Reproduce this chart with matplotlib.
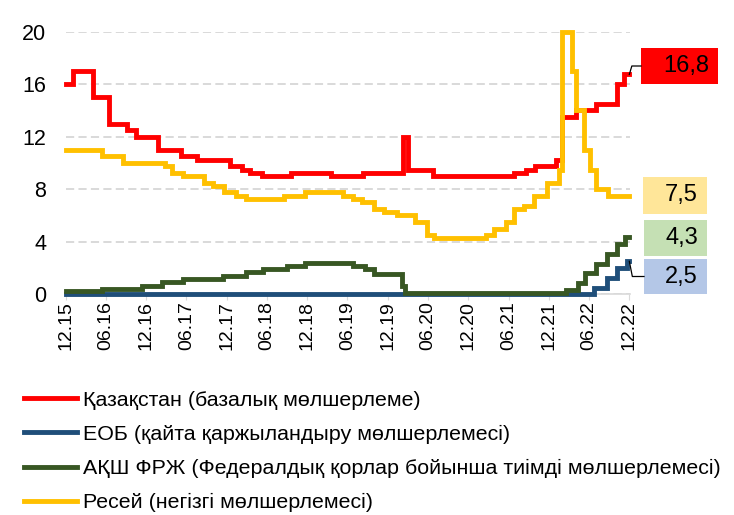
import pandas as pd
import matplotlib.pyplot as plt
from matplotlib.patches import Rectangle
from matplotlib.lines import Line2D

plt.rcParams['font.family'] = ['Liberation Sans', 'DejaVu Sans']

# change dates and rates (step series, Dec 2015 - Dec 2022)
kz_dates = ['2015-12-01', '2016-01-01', '2016-04-04', '2016-06-13', '2016-09-04',
            '2016-10-16', '2017-01-22', '2017-05-07', '2017-07-19', '2017-12-16',
            '2018-02-07', '2018-03-16', '2018-05-10', '2018-09-16', '2019-03-19',
            '2019-08-10', '2020-02-10', '2020-03-04', '2020-06-25', '2021-06-25',
            '2021-08-17', '2021-10-01', '2022-01-01', '2022-01-28', '2022-04-01',
            '2022-07-01', '2022-10-07', '2022-11-07']
kz_rates = [16.0, 17.0, 15.0, 13.0, 12.5, 12.0, 11.0, 10.5, 10.25, 9.75,
            9.5, 9.25, 9.0, 9.25, 9.0, 9.25, 12.0, 9.5, 9.0, 9.25,
            9.5, 9.75, 10.25, 13.5, 14.0, 14.5, 16.0, 16.75]

ecb_dates = ['2015-12-01', '2016-03-10', '2022-06-22', '2022-08-22', '2022-10-07',
             '2022-11-20']
ecb_rates = [0.05, 0.0, 0.5, 1.25, 2.0, 2.5]

fed_dates = ['2015-12-01', '2016-05-15', '2016-11-10', '2017-02-10', '2017-05-16',
             '2017-11-13', '2018-02-25', '2018-05-16', '2018-09-01', '2018-11-22',
             '2019-06-28', '2019-08-22', '2019-09-28', '2020-02-04', '2020-02-19',
             '2022-02-16', '2022-04-10', '2022-05-16', '2022-07-04', '2022-08-22',
             '2022-10-05', '2022-11-10']
fed_rates = [0.25, 0.38, 0.65, 0.9, 1.15, 1.4, 1.68, 1.91, 2.18, 2.4,
             2.13, 1.9, 1.55, 0.65, 0.08, 0.33, 0.83, 1.58, 2.33, 3.08,
             3.83, 4.33]

ru_dates = ['2015-12-01', '2016-05-13', '2016-08-19', '2017-02-25', '2017-03-28',
            '2017-05-16', '2017-08-19', '2017-10-01', '2017-11-19', '2018-01-10',
            '2018-02-25', '2018-08-16', '2018-11-19', '2019-05-13', '2019-06-25',
            '2019-08-07', '2019-09-28', '2019-11-13', '2020-01-13', '2020-04-01',
            '2020-05-28', '2020-06-28', '2021-02-19', '2021-03-25', '2021-05-19',
            '2021-06-25', '2021-08-10', '2021-09-25', '2021-11-22', '2022-01-16',
            '2022-01-28', '2022-03-16', '2022-04-04', '2022-05-10', '2022-06-07',
            '2022-07-01', '2022-08-25']
ru_rates = [11.0, 10.5, 10.0, 9.75, 9.25, 9.0, 8.5, 8.25, 7.75, 7.5,
            7.25, 7.5, 7.75, 7.5, 7.25, 7.0, 6.5, 6.25, 6.0, 5.5,
            4.5, 4.25, 4.5, 5.0, 5.5, 6.5, 6.75, 7.5, 8.5, 9.5,
            20.0, 17.0, 14.0, 11.0, 9.5, 8.0, 7.5]

end_date = '2022-12-01'

names = ['Қазақстан (базалық мөлшерлеме)',
         'ЕОБ (қайта қаржыландыру мөлшерлемесі)',
         'АҚШ ФРЖ (Федералдық қорлар бойынша тиімді мөлшерлемесі)',
         'Ресей (негізгі мөлшерлемесі)']
colors = ['#FF0000', '#1F4E79', '#385723', '#FFC000']
box_colors = ['#FF0000', '#B4C7E7', '#C5E0B4', '#FFE699']


def step_series(dates, rates):
    s = pd.Series(rates, index=pd.to_datetime(dates))
    s[pd.Timestamp(end_date)] = rates[-1]
    return s


series = [step_series(kz_dates, kz_rates), step_series(ecb_dates, ecb_rates),
          step_series(fed_dates, fed_rates), step_series(ru_dates, ru_rates)]

W, H = 734, 515
fig = plt.figure(figsize=(W / 100, H / 100), dpi=100)
ax = fig.add_axes([65.7 / W, 1 - 294.2 / H, 564.3 / W, 262.5 / H])

lines = []
for s, c in zip(series, colors):
    ln, = ax.plot(s.index, s.values, drawstyle='steps-post', color=c, lw=3.5,
                  solid_joinstyle='miter', clip_on=False, zorder=3)
    lines.append(ln)

ax.set_xlim(pd.Timestamp('2015-12-01'), pd.Timestamp('2022-12-04'))
ax.set_ylim(0, 20)
ax.set_yticks(range(0, 21, 4))
ticks = pd.date_range('2015-12-01', '2022-12-01', freq='6MS')
ax.set_xticks(ticks)
ax.set_xticklabels([d.strftime('%m.%y') for d in ticks], rotation=90)
ax.tick_params(axis='x', labelsize=14, length=4, color='#D9D9D9', pad=1)
ax.tick_params(axis='y', labelsize=15.5, length=0, pad=14)
ax.grid(axis='y', color='#D9D9D9', lw=1.4, linestyle=(0, (4.2, 2.2)))
ax.set_axisbelow(True)
for side in ['left', 'right', 'top']:
    ax.spines[side].set_visible(False)
ax.spines['bottom'].set_color('#D9D9D9')
ax.spines['bottom'].set_linewidth(1.2)

fig.legend(lines, names, loc='upper left', bbox_to_anchor=(13 / W, 1 - 380 / H),
           frameon=False, fontsize=15.4, handlelength=2.5, handletextpad=0.25,
           labelspacing=0.71, borderpad=0)


def fig_xy(x, y):
    return x / W, 1 - y / H


# value boxes: left, top, right, bottom (px)
boxes = [(641, 48, 718, 84), (644, 259, 707, 294), (644, 220, 707, 256),
         (643, 177, 707, 214)]
for s, (l, t, r, b), bc in zip(series, boxes, box_colors):
    x0, y0 = fig_xy(l, b)
    fig.add_artist(Rectangle((x0, y0), (r - l) / W, (b - t) / H,
                             transform=fig.transFigure, facecolor=bc,
                             edgecolor='none'))
    label = f'{s.iloc[-1]:.1f}'.replace('.', ',')
    fig.text((r - 9) / W, 1 - ((t + b) / 2) / H, label, ha='right',
             va='center', fontsize=17)

# leader lines for Kazakhstan and ECB
for i, (dx, ty, bl) in [(0, (2.5, 66, 641)), (1, (3, 276.5, 644))]:
    s = series[i]
    px, py = ax.transData.transform((ax.xaxis.convert_units(s.index[-1]), s.iloc[-1]))
    ex, ey = px, H - py
    pts = [(ex, ey), (ex + dx, ty), (bl, ty)]
    xs = [p[0] / W for p in pts]
    ys = [1 - p[1] / H for p in pts]
    fig.add_artist(Line2D(xs, ys, transform=fig.transFigure, color='black',
                          lw=0.9))

fig.savefig('out.png', dpi=100)
